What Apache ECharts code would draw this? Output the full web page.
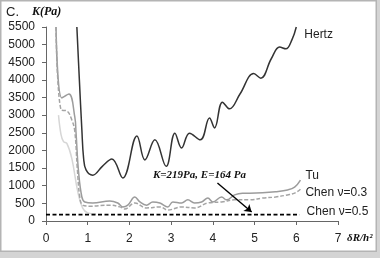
<!DOCTYPE html>
<html><head><meta charset="utf-8">
<script src="https://cdn.jsdelivr.net/npm/echarts@6/dist/echarts.min.js"></script>
<style>
html,body{margin:0;padding:0;background:#d4d4d4;}
#c{position:absolute;left:0;top:0;width:377px;height:252px;background:#fff;box-shadow:inset 0 0 0 1.5px #b4b4b4;}
</style></head>
<body><div id="c"></div>
<script>
const xTicks = [0,1,2,3,4,5,6,7];
const yTicks = [0,500,1000,1500,2000,2500,3000,3500,4000,4500,5000,5500];

const hertzX = [0.74,0.8,0.86,0.9,0.96,1.12,1.35,1.58,1.84,2.18,2.37,2.61,2.88,3.09,3.25,3.44,3.7,3.92,4.04,4.23,4.4,4.65,4.98,5.15,5.4,5.6,5.75,5.9,6.0];
const hertzY = [5500,4000,2580,1800,1450,1300,1550,1760,1220,2410,1730,2300,1550,2490,2070,2490,2300,2920,2640,3370,3180,3600,4180,4050,4600,4930,4880,5150,5500];

const tuX = [0.24,0.38,0.55,0.69,0.72,0.78,0.86,0.93,1.12,1.53,1.72,1.84,1.96,2.13,2.25,2.41,2.56,2.73,2.92,3.04,3.25,3.4,3.56,3.73,3.88,4.0,4.21,4.33,4.52,4.71,4.88,5.19,5.5,5.79,5.96,6.1];
const tuY = [5500,3490,3600,2950,2500,1400,680,540,510,570,510,400,450,680,540,450,540,510,400,540,510,600,510,540,650,540,680,600,740,790,790,800,830,880,960,1160];

const chen3X = [0.24,0.36,0.5,0.62,0.69,0.75,0.81,0.88,1.05,1.53,1.77,1.89,2.13,2.41,2.73,2.92,3.25,3.56,3.88,4.21,4.52,4.88,5.19,5.5,5.79,5.96,6.1];
const chen3Y = [5500,3150,3120,2860,2550,1500,680,450,420,450,400,340,510,370,400,310,400,370,510,540,600,600,650,680,740,790,900];

const lightX = [0.3,0.36,0.42,0.5,0.62,0.76,0.88,1.0,1.2];
const lightY = [3000,2450,2250,2200,1770,840,365,230,200];

const chen5X = [0,6.08];
const chen5Y = [180,180];

const arrowFrom = [4.11,1077];
const arrowTo = [4.93,255];

const names = ['Hertz','Tu','Chen \u03bd=0.3','Chen \u03bd=0.5'];

function zip(a,b){return a.map((v,i)=>[v,b[i]]);}

const sans = 'Liberation Sans, Arial, sans-serif';
const serif = 'Liberation Serif, Times New Roman, serif';

const chart = echarts.init(document.getElementById('c'));
const lbl = (text, off) => ({show:true, formatter:text, color:'#222', fontSize:12, fontFamily:sans, offset:off, distance:0});

chart.setOption({
  animation:false,
  grid:{left:46,right:39,top:27,bottom:31,containLabel:false},
  xAxis:{type:'value',min:0,max:7,interval:1,
    axisLine:{lineStyle:{color:'#666',width:1}},
    axisTick:{show:true,length:4,lineStyle:{color:'#666'}},
    axisLabel:{color:'#222',fontSize:12,fontFamily:sans,margin:12,formatter:v=>xTicks.includes(v)?String(v):''},
    splitLine:{show:false}},
  yAxis:{type:'value',min:0,max:5500,interval:500,
    axisLine:{show:true,lineStyle:{color:'#666',width:1}},
    axisTick:{show:true,length:4,lineStyle:{color:'#666'}},
    axisLabel:{color:'#222',fontSize:12,fontFamily:sans,margin:11,formatter:v=>yTicks.includes(v)?String(v):''},
    splitLine:{show:false}},
  series:[
    {type:'line',name:'light',data:zip(lightX,lightY),smooth:0.4,showSymbol:false,
      lineStyle:{color:'#d6d6d6',width:1.5},z:1},
    {type:'line',name:names[1],data:zip(tuX,tuY),smooth:0.4,showSymbol:false,
      lineStyle:{color:'#9c9c9c',width:1.5},endLabel:lbl(names[1],[5,-4]),z:2},
    {type:'line',name:names[2],data:zip(chen3X,chen3Y),smooth:0.4,showSymbol:false,
      lineStyle:{color:'#a4a4a4',width:1.5,type:[4,2]},endLabel:lbl(names[2],[5,3]),z:2},
    {type:'line',name:names[0],data:zip(hertzX,hertzY),smooth:0.4,showSymbol:false,
      lineStyle:{color:'#333',width:1.5},endLabel:lbl(names[0],[8,8]),z:3},
    {type:'line',name:names[3],data:zip(chen5X,chen5Y),showSymbol:false,
      lineStyle:{color:'#000',width:1.6,type:[4,2.5]},endLabel:lbl(names[3],[7,-3]),z:3,
      markLine:{silent:true,symbol:['none','arrow'],symbolSize:7,label:{show:false},
        lineStyle:{color:'#000',type:'solid',width:1.4},
        data:[[{coord:arrowFrom},{coord:arrowTo}]]}}
  ],
  graphic:[
    {type:'text',left:6,top:6,style:{text:'C.',fill:'#222',font:'13px '+sans}},
    {type:'text',left:32,top:6,style:{text:'K(Pa)',fill:'#111',font:'italic bold 12px '+serif}},
    {type:'text',left:153,top:170,style:{text:'K=219Pa, E=164 Pa',fill:'#111',font:'italic bold 11px '+serif}},
    {type:'text',left:347,top:233,style:{text:'\u03b4R/h\u00b2',fill:'#111',font:'italic bold 11px '+serif}}
  ]
});
</script></body></html>
